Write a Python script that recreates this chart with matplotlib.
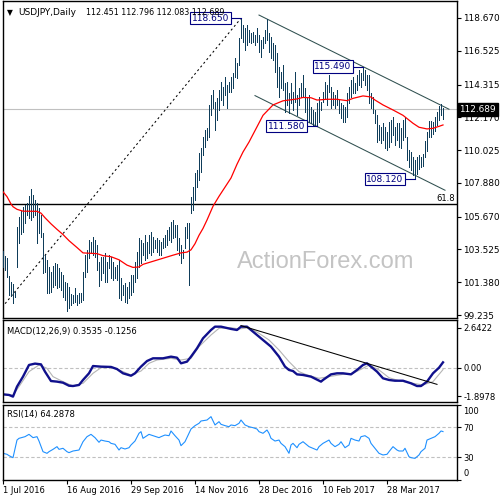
import matplotlib
matplotlib.use("Agg")
import matplotlib.pyplot as plt
from matplotlib.transforms import ScaledTranslation, blended_transform_factory

plt.rcParams['font.family'] = ['DejaVu Sans']

# ---------------- data ----------------
highs = [103.45, 103.10, 102.94, 101.81, 101.37, 101.26, 100.76, 104.97, 105.63, 106.06,
         106.32, 106.43, 106.54, 107.02, 107.48, 107.09, 106.76, 106.59, 106.22, 105.78,
         104.58, 103.16, 102.84, 102.36, 102.07, 102.44, 102.62, 102.57, 102.29, 102.07,
         101.85, 101.42, 101.31, 101.09, 100.61, 100.54, 100.98, 100.54, 100.65, 100.65,
         102.07, 103.16, 103.49, 104.14, 104.03, 104.36, 104.14, 103.82, 102.73, 103.05,
         103.05, 103.27, 102.73, 103.16, 103.05, 102.73, 102.40, 102.51, 102.84, 101.63,
         101.20, 101.31, 101.09, 101.42, 101.85, 101.85, 102.73, 103.38, 104.25, 104.14,
         103.92, 104.47, 104.03, 104.47, 104.69, 104.36, 104.14, 104.25, 104.14, 104.03,
         104.25, 104.47, 104.80, 105.02, 105.34, 105.45, 105.12, 105.12, 104.25, 103.82,
         103.49, 105.02, 105.23, 105.23, 106.98, 107.63, 108.51, 108.72, 109.81, 110.14,
         110.91, 111.34, 111.45, 112.98, 113.63, 113.96, 113.19, 113.41, 113.96, 114.50,
         114.18, 114.83, 114.29, 114.50, 114.83, 115.05, 116.03, 115.70, 117.34, 118.65,
         118.21, 117.99, 118.21, 117.89, 117.67, 117.78, 117.56, 117.99, 117.56, 117.23,
         117.45, 117.89, 118.60, 117.67, 117.45, 117.01, 116.90, 116.36, 115.49, 115.16,
         115.60, 114.40, 114.50, 113.74, 114.40, 113.85, 115.16, 113.63, 114.07, 114.40,
         114.94, 114.07, 113.41, 113.63, 112.87, 112.65, 112.54, 113.09, 113.52, 113.20,
         113.85, 114.50, 114.29, 114.94, 114.18, 113.85, 113.63, 113.96, 113.30, 113.09,
         112.98, 112.87, 113.74, 114.18, 114.61, 114.83, 114.40, 114.94, 115.27, 115.05,
         115.49, 115.27, 114.94, 114.94, 113.74, 113.52, 112.65, 112.32, 111.67, 111.56,
         111.78, 111.56, 111.23, 111.89, 111.99, 112.21, 111.56, 111.78, 111.78, 111.45,
         111.99, 112.21, 110.91, 110.03, 109.92, 109.60, 109.38, 109.60, 109.70, 109.55,
         109.80, 110.60, 111.20, 111.90, 111.95, 111.85, 112.20, 112.55, 112.90, 113.05,
         112.796]
lows = [102.40, 102.20, 101.74, 100.54, 100.48, 100.00, 100.44, 102.40, 103.93, 104.54,
        104.69, 105.23, 105.78, 105.56, 105.45, 105.67, 105.78, 103.93, 104.58, 104.36,
        101.96, 102.07, 100.65, 100.70, 100.76, 101.09, 101.20, 100.98, 101.09, 100.87,
        100.44, 100.22, 99.52, 99.67, 99.89, 100.00, 100.11, 99.89, 100.00, 100.11,
        100.22, 101.74, 102.07, 102.94, 103.27, 103.16, 103.05, 102.18, 101.13, 101.53,
        101.96, 101.42, 101.42, 102.29, 101.64, 101.53, 101.64, 101.53, 100.33, 100.22,
        100.54, 100.11, 100.04, 100.33, 100.54, 100.76, 101.42, 101.64, 102.40, 102.62,
        103.16, 102.84, 102.94, 103.27, 103.16, 103.38, 103.60, 103.38, 103.16, 103.16,
        103.60, 103.71, 103.82, 104.14, 104.03, 104.25, 104.36, 103.49, 103.16, 102.62,
        102.94, 103.60, 104.25, 101.20, 105.89, 106.11, 106.76, 107.63, 108.07, 108.61,
        109.71, 110.25, 110.69, 110.90, 112.32, 112.76, 111.34, 112.00, 112.65, 113.30,
        112.98, 113.63, 112.76, 113.85, 113.85, 114.07, 114.83, 114.72, 115.60, 117.34,
        117.12, 116.58, 116.90, 117.12, 117.01, 117.12, 116.90, 117.12, 116.47, 116.14,
        116.69, 117.01, 117.23, 116.47, 116.03, 115.92, 115.16, 114.18, 113.52, 114.07,
        113.96, 112.54, 112.98, 112.43, 113.09, 112.65, 113.20, 112.32, 112.98, 113.52,
        113.52, 112.54, 111.67, 111.89, 111.78, 111.67, 111.65, 111.58, 111.89, 112.65,
        113.20, 113.41, 112.98, 113.85, 112.76, 112.98, 112.76, 112.98, 112.43, 112.10,
        111.89, 111.89, 112.21, 113.09, 113.52, 113.74, 113.74, 113.96, 114.29, 114.18,
        114.61, 114.29, 113.96, 113.09, 112.76, 112.43, 111.78, 110.58, 110.69, 110.47,
        110.69, 110.14, 110.03, 110.25, 110.58, 111.01, 110.36, 110.69, 110.25, 110.14,
        110.69, 110.91, 109.38, 108.94, 108.72, 108.40, 108.12, 108.45, 108.80, 108.90,
        109.00, 109.60, 109.95, 110.85, 110.90, 111.10, 111.30, 111.65, 112.00, 112.35,
        112.083]

ma_x = [0, 2, 4, 5, 7, 10, 17, 19, 21, 24, 27, 30, 33, 37, 40, 47, 50, 54, 58, 62,
        65, 68, 70, 75, 80, 85, 89, 92, 94, 96, 98, 100, 102, 105, 108, 111, 114, 117,
        120, 123, 127, 130, 135, 140, 147, 150, 154, 157, 162, 167, 172, 175, 180, 184,
        186, 190, 195, 200, 205, 208, 212, 215, 218, 220]
ma_y = [107.30, 106.98, 106.50, 106.32, 106.15, 106.03, 106.02, 105.90, 105.60, 105.20,
        104.84, 104.50, 104.10, 103.65, 103.30, 103.25, 103.12, 103.05, 102.85, 102.50,
        102.35, 102.38, 102.55, 102.75, 102.95, 103.15, 103.30, 103.35, 103.50, 103.90,
        104.45, 104.90, 105.45, 106.35, 107.00, 107.60, 108.20, 109.10, 109.90, 110.55,
        111.55, 112.30, 112.98, 113.25, 113.37, 113.47, 113.45, 113.30, 113.35, 113.35,
        113.26, 113.41, 113.57, 113.50, 113.30, 112.98, 112.65, 112.30, 111.78, 111.52,
        111.41, 111.45, 111.58, 111.67]

macd_x = [0, 3, 5, 7, 10, 13, 16, 19, 21, 24, 27, 30, 33, 35, 38, 40, 43, 45, 49, 54,
          57, 60, 64, 66, 69, 72, 75, 80, 84, 87, 89, 92, 94, 97, 100, 104, 106, 109,
          114, 117, 119, 122, 124, 128, 131, 134, 138, 141, 143, 145, 147, 150, 154,
          159, 160, 164, 167, 170, 174, 177, 180, 182, 184, 187, 190, 193, 196, 200,
          204, 207, 209, 212, 215, 218, 220]
macd_y = [-1.76, -1.80, -1.91, -1.25, -0.59, 0.18, 0.27, 0.22, -0.26, -0.88, -0.92,
          -0.99, -1.19, -1.21, -1.14, -0.81, -0.37, 0.11, 0.07, 0.05, -0.09, -0.37,
          -0.53, -0.37, 0.07, 0.44, 0.62, 0.62, 0.73, 0.66, 0.29, 0.40, 0.73, 1.28,
          1.94, 2.49, 2.71, 2.71, 2.56, 2.49, 2.71, 2.71, 2.49, 2.05, 1.72, 1.39, 0.73,
          0.07, -0.15, -0.22, -0.44, -0.48, -0.59, -0.92, -0.81, -0.44, -0.37, -0.37,
          -0.44, -0.15, 0.18, 0.29, 0.07, -0.26, -0.70, -0.81, -0.86, -0.86, -1.03,
          -1.21, -1.21, -0.92, -0.37, 0.00, 0.3535]
sig_x = [0, 5, 8, 13, 18, 22, 25, 30, 35, 40, 45, 49, 55, 60, 64, 69, 73, 77, 84, 89,
         94, 98, 104, 108, 114, 118, 123, 128, 133, 138, 143, 148, 152, 158, 163, 170,
         175, 180, 183, 188, 193, 198, 205, 210, 215, 220]
sig_y = [-1.76, -1.80, -1.25, -0.26, 0.18, -0.04, -0.59, -0.92, -1.21, -1.03, -0.37,
         0.00, 0.02, -0.26, -0.48, -0.22, 0.29, 0.51, 0.62, 0.51, 0.62, 1.39, 2.16,
         2.60, 2.64, 2.56, 2.64, 2.27, 1.83, 1.17, 0.40, -0.26, -0.48, -0.70, -0.59,
         -0.44, -0.37, -0.04, 0.18, -0.15, -0.66, -0.86, -1.03, -1.14, -0.92, -0.1256]

rsi_x = [0, 2, 3, 5, 7, 8, 11, 13, 15, 17, 18, 20, 22, 23, 25, 27, 28, 30, 32, 33, 35,
         38, 40, 42, 44, 46, 48, 49, 51, 53, 54, 56, 58, 59, 61, 63, 64, 66, 68, 69,
         70, 72, 73, 75, 78, 79, 81, 83, 84, 86, 88, 89, 91, 93, 94, 96, 98, 99, 102,
         104, 106, 108, 109, 111, 113, 114, 116, 118, 119, 121, 123, 125, 127, 128,
         130, 132, 133, 134, 136, 138, 139, 141, 143, 144, 145, 147, 148, 150, 152,
         153, 155, 157, 158, 160, 163, 164, 166, 168, 169, 171, 173, 174, 176, 178,
         179, 181, 183, 184, 186, 188, 190, 192, 193, 195, 197, 198, 200, 201, 203,
         204, 206, 208, 209, 211, 212, 214, 216, 218, 219, 220]
rsi_y = [35.3, 34.0, 32.2, 29.5, 53.0, 55.3, 57.5, 60.6, 56.2, 57.5, 51.7, 37.5, 35.3,
         37.5, 40.6, 44.2, 40.6, 42.0, 37.5, 36.2, 38.4, 39.7, 50.8, 57.5, 60.6, 56.2,
         50.0, 53.0, 51.7, 50.8, 48.6, 47.3, 39.7, 42.8, 41.1, 42.8, 46.4, 51.7, 62.0,
         64.2, 55.3, 58.8, 60.6, 58.8, 56.2, 57.5, 59.7, 58.8, 65.1, 58.8, 53.0, 45.5,
         50.8, 62.0, 67.7, 72.2, 75.3, 78.4, 79.7, 84.2, 73.1, 77.5, 74.0, 72.2, 70.8,
         73.1, 72.2, 75.3, 79.7, 73.1, 70.8, 69.5, 67.7, 64.2, 62.0, 66.4, 62.0, 55.3,
         51.7, 53.0, 48.6, 44.2, 35.3, 46.4, 48.6, 42.8, 47.3, 50.8, 46.4, 44.2, 42.0,
         39.7, 44.2, 48.6, 53.0, 48.6, 44.2, 47.3, 50.8, 42.8, 46.4, 55.3, 53.0, 51.7,
         57.5, 58.8, 55.3, 48.6, 42.0, 35.3, 33.1, 34.0, 37.5, 44.2, 39.7, 38.4, 38.4,
         42.0, 30.8, 29.5, 28.6, 33.1, 37.5, 42.0, 53.0, 55.3, 57.5, 62.0, 65.1, 64.3]

last_bar = [112.451, 112.796, 112.083, 112.689]   # open high low close
fib_level = 106.52
fib_label = "61.8"

# trend lines (bar index, price)
fib_fan_x = [-5, 119]
fib_fan_y = [99.02, 118.65]
chan_x = [128, 223]
chan_upper = [118.86, 112.70]
chan_low_x = [126, 221]
chan_lower = [113.59, 107.40]
macd_tl_x = [119, 217]
macd_tl_y = [2.78, -1.10]

swing_x = [119, 180, 157, 206]
swing_p = [118.650, 115.490, 111.580, 108.120]

price_ticks = [118.670, 116.525, 114.315, 112.170, 110.025, 107.880, 105.670,
               103.525, 101.380, 99.235]
macd_ticks = [2.6422, 0.0, -1.8978]
macd_tick_labels = ['2.6422', '0.00', '-1.8978']
rsi_ticks = [100, 70, 30, 0]
rsi_levels = [70, 30]
date_pos = [0, 32, 64, 96, 128, 160, 192]
date_labels = ['1 Jul 2016', '16 Aug 2016', '29 Sep 2016', '14 Nov 2016',
               '28 Dec 2016', '10 Feb 2017', '28 Mar 2017']

# ---------------- layout ----------------
W = H = 500.0
fig = plt.figure(figsize=(5, 5), dpi=100)
fig.patch.set_facecolor('white')


def rect(l, t, r, b):
    return [l / W, 1 - b / H, (r - l) / W, (b - t) / H]


ax = fig.add_axes(rect(2.5, 1, 457, 318))
axm = fig.add_axes(rect(2.5, 320, 457, 402.3))
axr = fig.add_axes(rect(2.5, 404.8, 457, 479.8))

for a in (ax, axm, axr):
    a.set_xlim(-0.25, 227)
    a.yaxis.tick_right()
    a.tick_params(axis='y', direction='out', length=3, width=0.8, pad=1.5,
                  labelsize=6, colors='black')
    for s in a.spines.values():
        s.set_linewidth(1.0)
        s.set_color('black')
for a in (ax, axm):
    a.tick_params(axis='x', bottom=False, labelbottom=False)

# ---------------- main price panel ----------------
ax.set_ylim(99.04, 119.78)
ax.set_yticks(price_ticks, [f'{v:.3f}' for v in price_ticks])
ax.tick_params(axis='y', labelsize=6.4)

idx = list(range(len(highs)))
ax.text(0.712, 0.177, 'ActionForex.com', transform=ax.transAxes, ha='center',
        va='center', fontsize=17, color='#c4c4c4', family='Liberation Sans', zorder=0)
ax.axhline(last_bar[3], color='#c0c0c0', lw=0.8, zorder=1)
ax.axhline(fib_level, color='black', lw=1.0, zorder=1)
ax.text(226, fib_level + 0.06, fib_label, ha='right', va='bottom', fontsize=6, color='black')
ax.plot(fib_fan_x, fib_fan_y, color='black', lw=0.75, dashes=(2, 2.6), zorder=2)
ax.plot(chan_x, chan_upper, color='#2f4f4f', lw=0.75, zorder=2)
ax.plot(chan_low_x, chan_lower, color='#2f4f4f', lw=0.75, zorder=2)
ax.vlines(idx, lows, highs, color='#0f3d5a', lw=0.6, antialiased=False, zorder=3)
ax.plot(ma_x, ma_y, color='red', lw=0.9, zorder=4)

for sx, sp in zip(swing_x, swing_p):
    ax.plot([sx - 5, sx], [sp, sp], color='#000080', lw=0.8, zorder=5)
    ax.text(sx - 5.8, sp, f'{sp:.3f}', ha='right', va='center', fontsize=6.5,
            color='#000080', zorder=6,
            bbox=dict(boxstyle='square,pad=0.18', fc='white', ec='#000080', lw=0.8))

bt = blended_transform_factory(ax.transAxes, ax.transData)
ax.text(1.0055, last_bar[3], f'{last_bar[3]:.3f}', transform=bt, ha='left', va='center',
        fontsize=6.4, color='white', clip_on=False, zorder=10,
        bbox=dict(boxstyle='square,pad=0.2', fc='black', ec='black'))

fig.text(6.5 / W, 1 - 15 / H, '\u25bc', fontsize=5.5, ha='left', va='baseline', color='black')
fig.text(18 / W, 1 - 15 / H, 'USDJPY,Daily', fontsize=6.5, ha='left', va='baseline', color='black')
fig.text(85.5 / W, 1 - 15 / H, ' '.join(f'{v:.3f}' for v in last_bar), fontsize=5.8,
         ha='left', va='baseline', color='black')

# ---------------- MACD panel ----------------
axm.set_ylim(-2.285, 3.15)
axm.set_yticks(macd_ticks, macd_tick_labels)
axm.axhline(0, color='#c0c0c0', lw=0.8, dashes=(3, 2))
axm.plot(sig_x, sig_y, color='#b4b4b4', lw=0.8)
axm.plot(macd_x, macd_y, color='#10108c', lw=1.7)
axm.plot(macd_tl_x, macd_tl_y, color='black', lw=0.75)
axm.text(0.0099, 0.83, 'MACD(12,26,9) 0.3535 -0.1256', transform=axm.transAxes,
         fontsize=6, ha='left', va='baseline', color='black')

# ---------------- RSI panel ----------------
axr.set_ylim(0, 100)
axr.set_yticks(rsi_ticks, [str(v) for v in rsi_ticks])
for lv in rsi_levels:
    axr.axhline(lv, color='#c0c0c0', lw=0.8, dashes=(3, 2))
axr.plot(rsi_x, rsi_y, color='#1e90ff', lw=0.8)
axr.text(0.0099, 0.844, 'RSI(14) 64.2878', transform=axr.transAxes,
         fontsize=6, ha='left', va='baseline', color='black')
labs = axr.get_yticklabels()
labs[0].set_transform(labs[0].get_transform() + ScaledTranslation(0, -6 / 100, fig.dpi_scale_trans))
labs[-1].set_transform(labs[-1].get_transform() + ScaledTranslation(0, 7 / 100, fig.dpi_scale_trans))

axr.set_xticks(date_pos)
axr.set_xticklabels(date_labels, ha='left')
axr.tick_params(axis='x', direction='out', length=3, width=0.8, pad=1.5, labelsize=6)

fig.savefig('out.png', dpi=100)
